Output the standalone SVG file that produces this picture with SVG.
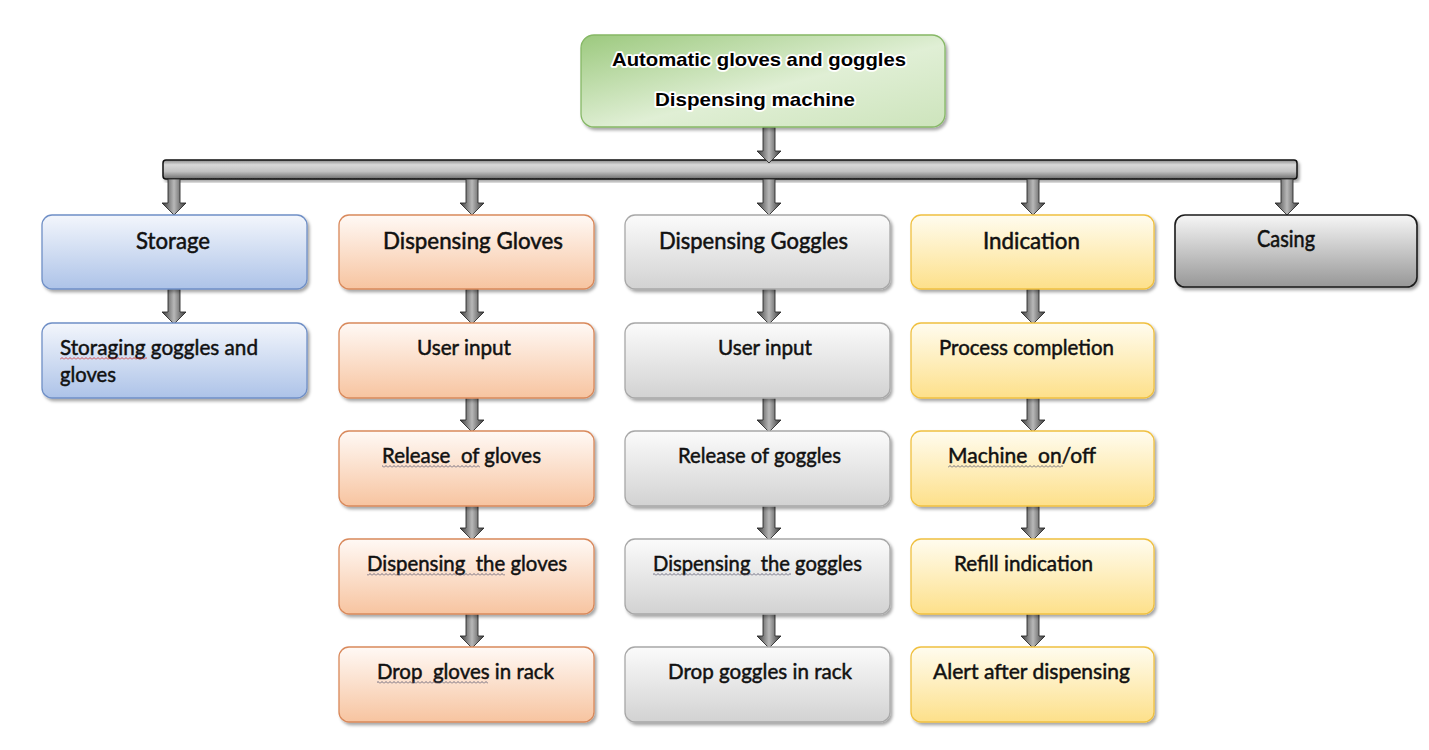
<svg xmlns="http://www.w3.org/2000/svg" width="1429" height="750" viewBox="0 0 1429 750">
<style>
.t1{font-family:Lato,"Open Sans","Liberation Sans",sans-serif;font-size:24px;fill:#111;stroke:#111;stroke-width:0.55px}
.t2{font-family:Lato,"Open Sans","Liberation Sans",sans-serif;font-size:22px;fill:#111;stroke:#111;stroke-width:0.5px}
.top{font-family:"Liberation Sans",Arial,sans-serif;font-weight:bold;font-size:19px;fill:#000;stroke:#fff;stroke-width:3.5px;stroke-linejoin:round;paint-order:stroke}
.pre{white-space:pre}
.box{stroke-width:1.3}
.arr{fill:url(#ag);stroke:#2e2e2e;stroke-width:0.9}
</style>
<defs>
<filter id="sh" x="-5%" y="-10%" width="115%" height="130%">
<feDropShadow dx="2" dy="2.5" stdDeviation="1.5" flood-color="#000" flood-opacity="0.35"/>
</filter>
<linearGradient id="ag" x1="0" y1="0" x2="1" y2="0">
<stop offset="0" stop-color="#383838"/><stop offset="0.5" stop-color="#b8b8b8"/><stop offset="1" stop-color="#383838"/>
</linearGradient>
<linearGradient id="barg" x1="0" y1="0" x2="0" y2="1">
<stop offset="0" stop-color="#8a8a8a"/><stop offset="0.25" stop-color="#d8d8d8"/><stop offset="0.6" stop-color="#c2c2c2"/><stop offset="1" stop-color="#6e6e6e"/>
</linearGradient>
<linearGradient id="gg" x1="0" y1="0" x2="1" y2="1">
<stop offset="0" stop-color="#9cc97e"/><stop offset="0.55" stop-color="#e0efd5"/><stop offset="1" stop-color="#cde4bc"/>
</linearGradient>
<linearGradient id="bg" x1="0" y1="0" x2="0" y2="1">
<stop offset="0" stop-color="#f3f6fc"/><stop offset="1" stop-color="#adc3e8"/>
</linearGradient>
<linearGradient id="og" x1="0" y1="0" x2="0" y2="1">
<stop offset="0" stop-color="#fff9f5"/><stop offset="1" stop-color="#f7c4a0"/>
</linearGradient>
<linearGradient id="yg" x1="0" y1="0" x2="0" y2="1">
<stop offset="0" stop-color="#fffcef"/><stop offset="1" stop-color="#fde08a"/>
</linearGradient>
<linearGradient id="sg" x1="0" y1="0" x2="0" y2="1">
<stop offset="0" stop-color="#fbfbfb"/><stop offset="1" stop-color="#d2d2d2"/>
</linearGradient>
<linearGradient id="cg" x1="0" y1="0" x2="0" y2="1">
<stop offset="0" stop-color="#f6f6f6"/><stop offset="1" stop-color="#979797"/>
</linearGradient>
<pattern id="wr" width="4" height="3" patternUnits="userSpaceOnUse"><path d="M0 2.5 L2 0.5 L4 2.5" fill="none" stroke="#d02020" stroke-width="0.8"/></pattern>
<pattern id="wg" width="4" height="3" patternUnits="userSpaceOnUse"><path d="M0 2.5 L2 0.5 L4 2.5" fill="none" stroke="#505068" stroke-width="0.8"/></pattern>
</defs>
<rect width="1429" height="750" fill="#fff"/>

<g id="connectors">
<rect x="163" y="160" width="1134" height="19" rx="3" fill="url(#barg)" stroke="#111" stroke-width="1.5" filter="url(#sh)"/>
<path class="arr" d="M763 127 H775 V151 H781 L769 163 L757 151 H763 Z"/>
<path class="arr" d="M168 179 H180 V203 H186 L174 215 L162 203 H168 Z"/>
<path class="arr" d="M466 179 H478 V203 H484 L472 215 L460 203 H466 Z"/>
<path class="arr" d="M763 179 H775 V203 H781 L769 215 L757 203 H763 Z"/>
<path class="arr" d="M1027 179 H1039 V203 H1045 L1033 215 L1021 203 H1027 Z"/>
<path class="arr" d="M1281 179 H1293 V203 H1299 L1287 215 L1275 203 H1281 Z"/>
<path class="arr" d="M168 289 H180 V312 H186 L174 324 L162 312 H168 Z"/>
<path class="arr" d="M466 289 H478 V312 H484 L472 324 L460 312 H466 Z"/>
<path class="arr" d="M466 397 H478 V420 H484 L472 432 L460 420 H466 Z"/>
<path class="arr" d="M466 505 H478 V528 H484 L472 540 L460 528 H466 Z"/>
<path class="arr" d="M466 613 H478 V636 H484 L472 648 L460 636 H466 Z"/>
<path class="arr" d="M763 289 H775 V312 H781 L769 324 L757 312 H763 Z"/>
<path class="arr" d="M763 397 H775 V420 H781 L769 432 L757 420 H763 Z"/>
<path class="arr" d="M763 505 H775 V528 H781 L769 540 L757 528 H763 Z"/>
<path class="arr" d="M763 613 H775 V636 H781 L769 648 L757 636 H763 Z"/>
<path class="arr" d="M1027 289 H1039 V312 H1045 L1033 324 L1021 312 H1027 Z"/>
<path class="arr" d="M1027 397 H1039 V420 H1045 L1033 432 L1021 420 H1027 Z"/>
<path class="arr" d="M1027 505 H1039 V528 H1045 L1033 540 L1021 528 H1027 Z"/>
<path class="arr" d="M1027 613 H1039 V636 H1045 L1033 648 L1021 636 H1027 Z"/>
</g>

<g id="root">
<rect x="581" y="35" width="364" height="92" rx="13" fill="url(#gg)" stroke="#86b866" stroke-width="1.3" filter="url(#sh)"/>
<text class="top" x="612" y="66" textLength="294" lengthAdjust="spacingAndGlyphs">Automatic gloves and goggles</text>
<text class="top" x="655" y="106" textLength="200" lengthAdjust="spacingAndGlyphs">Dispensing machine</text>
</g>

<g id="storage">
<rect class="box" x="42" y="215" width="265" height="74" rx="10" fill="url(#bg)" stroke="#6f8fc6" filter="url(#sh)"/>
<text class="t1" x="136" y="249" textLength="74" lengthAdjust="spacingAndGlyphs">Storage</text>
</g>
<g id="storaging">
<rect class="box" x="42" y="323" width="265" height="75" rx="10" fill="url(#bg)" stroke="#6f8fc6" filter="url(#sh)"/>
<text class="t2" x="60" y="355" textLength="198" lengthAdjust="spacingAndGlyphs">Storaging goggles and</text>
<text class="t2" x="60" y="382" textLength="56" lengthAdjust="spacingAndGlyphs">gloves</text>
<rect x="60" y="357" width="87" height="3" fill="url(#wr)"/>
</g>

<g id="gloves">
<rect class="box" x="339" y="215" width="255" height="74" rx="10" fill="url(#og)" stroke="#d9895b" filter="url(#sh)"/>
<text class="t1" x="383" y="249" textLength="180" lengthAdjust="spacingAndGlyphs">Dispensing Gloves</text>
</g>
<g id="gloves-input">
<rect class="box" x="339" y="323" width="255" height="75" rx="10" fill="url(#og)" stroke="#d9895b" filter="url(#sh)"/>
<text class="t2" x="417" y="355" textLength="94" lengthAdjust="spacingAndGlyphs">User input</text>
</g>
<g id="gloves-release">
<rect class="box" x="339" y="431" width="255" height="75" rx="10" fill="url(#og)" stroke="#d9895b" filter="url(#sh)"/>
<text class="t2 pre" xml:space="preserve" x="382" y="463" textLength="159" lengthAdjust="spacingAndGlyphs">Release  of gloves</text>
<rect x="382" y="465" width="98" height="3" fill="url(#wg)"/>
</g>
<g id="gloves-dispense">
<rect class="box" x="339" y="539" width="255" height="75" rx="10" fill="url(#og)" stroke="#d9895b" filter="url(#sh)"/>
<text class="t2 pre" xml:space="preserve" x="367" y="571" textLength="200" lengthAdjust="spacingAndGlyphs">Dispensing  the gloves</text>
<rect x="367" y="573" width="138" height="3" fill="url(#wg)"/>
</g>
<g id="gloves-drop">
<rect class="box" x="339" y="647" width="255" height="75" rx="10" fill="url(#og)" stroke="#d9895b" filter="url(#sh)"/>
<text class="t2 pre" xml:space="preserve" x="377" y="679" textLength="177" lengthAdjust="spacingAndGlyphs">Drop  gloves in rack</text>
<rect x="377" y="681" width="111" height="3" fill="url(#wg)"/>
</g>

<g id="goggles">
<rect class="box" x="625" y="215" width="265" height="74" rx="10" fill="url(#sg)" stroke="#a8a8a8" filter="url(#sh)"/>
<text class="t1" x="659" y="249" textLength="189" lengthAdjust="spacingAndGlyphs">Dispensing Goggles</text>
</g>
<g id="goggles-input">
<rect class="box" x="625" y="323" width="265" height="75" rx="10" fill="url(#sg)" stroke="#a8a8a8" filter="url(#sh)"/>
<text class="t2" x="718" y="355" textLength="94" lengthAdjust="spacingAndGlyphs">User input</text>
</g>
<g id="goggles-release">
<rect class="box" x="625" y="431" width="265" height="75" rx="10" fill="url(#sg)" stroke="#a8a8a8" filter="url(#sh)"/>
<text class="t2" x="678" y="463" textLength="163" lengthAdjust="spacingAndGlyphs">Release of goggles</text>
</g>
<g id="goggles-dispense">
<rect class="box" x="625" y="539" width="265" height="75" rx="10" fill="url(#sg)" stroke="#a8a8a8" filter="url(#sh)"/>
<text class="t2 pre" xml:space="preserve" x="653" y="571" textLength="209" lengthAdjust="spacingAndGlyphs">Dispensing  the goggles</text>
<rect x="653" y="573" width="138" height="3" fill="url(#wg)"/>
</g>
<g id="goggles-drop">
<rect class="box" x="625" y="647" width="265" height="75" rx="10" fill="url(#sg)" stroke="#a8a8a8" filter="url(#sh)"/>
<text class="t2" x="668" y="679" textLength="184" lengthAdjust="spacingAndGlyphs">Drop goggles in rack</text>
</g>

<g id="indication">
<rect class="box" x="911" y="215" width="243" height="74" rx="10" fill="url(#yg)" stroke="#f0c040" filter="url(#sh)"/>
<text class="t1" x="983" y="249" textLength="97" lengthAdjust="spacingAndGlyphs">Indication</text>
</g>
<g id="process">
<rect class="box" x="911" y="323" width="243" height="75" rx="10" fill="url(#yg)" stroke="#f0c040" filter="url(#sh)"/>
<text class="t2" x="939" y="355" textLength="175" lengthAdjust="spacingAndGlyphs">Process completion</text>
</g>
<g id="onoff">
<rect class="box" x="911" y="431" width="243" height="75" rx="10" fill="url(#yg)" stroke="#f0c040" filter="url(#sh)"/>
<text class="t2 pre" xml:space="preserve" x="948" y="463" textLength="148" lengthAdjust="spacingAndGlyphs">Machine  on/off</text>
<rect x="948" y="465" width="115" height="3" fill="url(#wg)"/>
</g>
<g id="refill">
<rect class="box" x="911" y="539" width="243" height="75" rx="10" fill="url(#yg)" stroke="#f0c040" filter="url(#sh)"/>
<text class="t2" x="954" y="571" textLength="139" lengthAdjust="spacingAndGlyphs">Refill indication</text>
</g>
<g id="alert">
<rect class="box" x="911" y="647" width="243" height="75" rx="10" fill="url(#yg)" stroke="#f0c040" filter="url(#sh)"/>
<text class="t2" x="933" y="679" textLength="197" lengthAdjust="spacingAndGlyphs">Alert after dispensing</text>
</g>

<g id="casing">
<rect x="1175" y="215" width="242" height="72" rx="10" fill="url(#cg)" stroke="#1a1a1a" stroke-width="1.6" filter="url(#sh)"/>
<text class="t1" x="1257" y="247" textLength="58" lengthAdjust="spacingAndGlyphs">Casing</text>
</g>
</svg>
